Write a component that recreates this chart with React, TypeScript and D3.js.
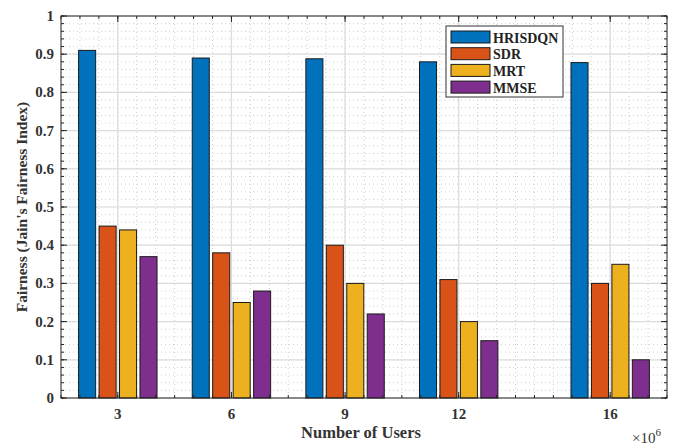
import React from "react";
import * as d3 from "d3";

const groups = [3, 6, 9, 12, 16];
const seriesNames = ["HRISDQN", "SDR", "MRT", "MMSE"];
const hrisdqn = [0.91, 0.89, 0.888, 0.88, 0.878];
const sdr = [0.45, 0.38, 0.40, 0.31, 0.30];
const mrt = [0.44, 0.25, 0.30, 0.20, 0.35];
const mmse = [0.37, 0.28, 0.22, 0.15, 0.10];
const colors = ["#0072BD", "#D95319", "#EDB120", "#7E2F8E"];
const yTicks = [0, 0.1, 0.2, 0.3, 0.4, 0.5, 0.6, 0.7, 0.8, 0.9, 1];

const W = 682, H = 445;
const L = 61, R = 667, T = 16, B = 398;
const font = "'Liberation Serif', 'Times New Roman', serif";

export default function App() {
  const series = [hrisdqn, sdr, mrt, mmse];
  const x = d3.scaleLinear().domain([1.5, 17.5]).range([L, R]);
  const y = d3.scaleLinear().domain([0, 1]).range([B, T]);
  const barW = 0.45;
  const step = 0.54;
  const offs = seriesNames.map((_, i) => (i - 1.5) * step);
  const minorX = d3.range(1.5, 17.51, 0.5);
  const minorY = d3.range(0, 1.001, 0.02);
  const axisCol = "#262626";

  return (
    <svg width={W} height={H} style={{ position: "absolute", left: 0, top: 0, background: "#fff" }}>
      <rect x={0} y={0} width={W} height={H} fill="#fff" />
      {minorX.map((v, i) => (
        <line key={"mx" + i} x1={x(v)} x2={x(v)} y1={T} y2={B} stroke="#cfcfcf" strokeWidth={1} strokeDasharray="1,3" />
      ))}
      {minorY.map((v, i) => (
        <line key={"my" + i} x1={L} x2={R} y1={y(v)} y2={y(v)} stroke="#cfcfcf" strokeWidth={1} strokeDasharray="1,3" />
      ))}
      {groups.map((g) => (
        <line key={"gx" + g} x1={x(g)} x2={x(g)} y1={T} y2={B} stroke="#dcdcdc" strokeWidth={1.2} />
      ))}
      {yTicks.map((v) => (
        <line key={"gy" + v} x1={L} x2={R} y1={y(v)} y2={y(v)} stroke="#dcdcdc" strokeWidth={1.2} />
      ))}
      {series.map((s, si) =>
        s.map((v, gi) => (
          <rect
            key={si + "-" + gi}
            x={x(groups[gi] + offs[si] - barW / 2)}
            y={y(v)}
            width={x(barW) - x(0)}
            height={y(0) - y(v)}
            fill={colors[si]}
            stroke="#1a1a1a"
            strokeWidth={1}
          />
        ))
      )}
      <rect x={L} y={T} width={R - L} height={B - T} fill="none" stroke={axisCol} strokeWidth={1} />
      {minorX.map((v, i) => (
        <g key={"tx" + i}>
          <line x1={x(v)} x2={x(v)} y1={B} y2={B - 3} stroke={axisCol} />
          <line x1={x(v)} x2={x(v)} y1={T} y2={T + 3} stroke={axisCol} />
        </g>
      ))}
      {groups.map((g) => (
        <g key={"txm" + g}>
          <line x1={x(g)} x2={x(g)} y1={B} y2={B - 6} stroke={axisCol} />
          <line x1={x(g)} x2={x(g)} y1={T} y2={T + 6} stroke={axisCol} />
        </g>
      ))}
      {minorY.map((v, i) => (
        <g key={"ty" + i}>
          <line x1={L} x2={L + 3} y1={y(v)} y2={y(v)} stroke={axisCol} />
          <line x1={R} x2={R - 3} y1={y(v)} y2={y(v)} stroke={axisCol} />
        </g>
      ))}
      {yTicks.map((v) => (
        <g key={"tym" + v}>
          <line x1={L} x2={L + 6} y1={y(v)} y2={y(v)} stroke={axisCol} />
          <line x1={R} x2={R - 6} y1={y(v)} y2={y(v)} stroke={axisCol} />
        </g>
      ))}
      {groups.map((g) => (
        <text key={"lx" + g} x={x(g)} y={419} textAnchor="middle" fontFamily={font} fontWeight="bold" fontSize={15} fill="#333">
          {g}
        </text>
      ))}
      {yTicks.map((v) => (
        <text key={"ly" + v} x={54} y={y(v) + 5} textAnchor="end" fontFamily={font} fontWeight="bold" fontSize={15} fill="#333">
          {String(v)}
        </text>
      ))}
      <text x={632} y={443} fontFamily={font} fontSize={15} fill="#333">
        ×10<tspan dy={-7} fontSize={11}>6</tspan>
      </text>
      <text x={361} y={438} textAnchor="middle" fontFamily={font} fontWeight="bold" fontSize={16.5} fill="#333">
        Number of Users
      </text>
      <text transform={`translate(27,207) rotate(-90)`} textAnchor="middle" fontFamily={font} fontWeight="bold" fontSize={15.5} fill="#333">
        Fairness (Jain's Fairness Index)
      </text>
      <rect x={446} y={26} width={117} height={71} fill="#fff" stroke="#333" strokeWidth={1} />
      {seriesNames.map((n, i) => (
        <g key={n}>
          <rect x={451} y={31 + i * 16.7} width={39} height={12} fill={colors[i]} stroke="#1a1a1a" strokeWidth={1} />
          <text x={493} y={42.5 + i * 16.7} fontFamily={font} fontWeight="bold" fontSize={14} fill="#222">
            {n}
          </text>
        </g>
      ))}
    </svg>
  );
}
